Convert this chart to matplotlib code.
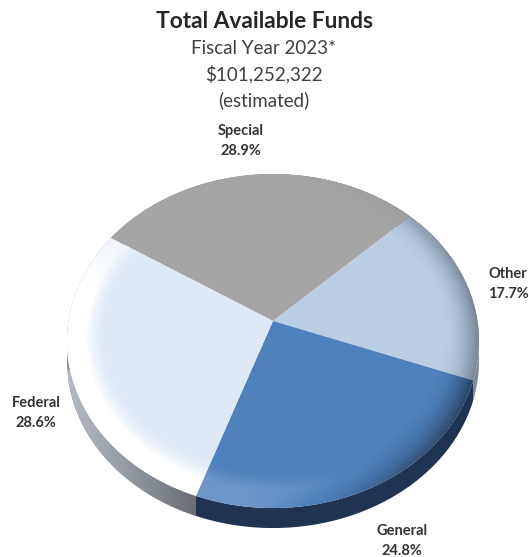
import numpy as np
from matplotlib import pyplot as plt
from matplotlib.patches import Polygon
from matplotlib.transforms import Transform
from matplotlib.colors import LinearSegmentedColormap

plt.rcParams['font.family'] = ['Lato', 'DejaVu Sans']

categories = ['Special', 'Other', 'General', 'Federal']
shares = [28.9, 17.7, 24.8, 28.6]
top_colors = ['#a5a5a5', '#b9cde5', '#4f81bd', '#dfe9f6']
side_colors = ['#6f6f6f', '#7f8a97', '#1f3352', '#8a9098']
highlight_gain = [0.0, 0.0, 0.18, 1.0]
shadow_gain = [0.12, 0.6, 0.85, 0.3]

title = 'Total Available Funds'
subtitle = ['Fiscal Year 2023*', '$101,252,322', '(estimated)']

# pie position on the page, in pixels
CX, CY, RX, RY, TILT = 273.0, 321.0, 204.5, 164.6, 0.12
DEPTH = 20
W, H = 529, 557


class Perspective(Transform):
    input_dims = 2
    output_dims = 2
    is_separable = False
    has_inverse = False

    def transform_non_affine(self, values):
        values = np.asarray(values, dtype=float)
        w = 1 + TILT * values[:, 1]
        return np.column_stack((CX + RX * values[:, 0] / w, CY - RY * values[:, 1] / w))


def bevel_overlay(hi, lo):
    xx, yy = np.meshgrid(np.arange(W) + 0.5, np.arange(H) + 0.5)
    ny = (CY - yy) / RY
    v = ny / (1 - TILT * ny)
    u = (xx - CX) / RX * (1 + TILT * v)
    r = np.hypot(u, v)
    th = np.arctan2(v, u)
    t = np.clip((r - 0.82) / 0.18, 0, 1)
    light = np.clip(np.cos(th - np.radians(215)) * 1.5, 0, 1) * np.clip(t * 2.0, 0, 1) ** 1.5 * hi
    dark = np.clip(np.cos(th + np.radians(5)), 0, 1) * t ** 2 * 0.6 * lo
    net = light - dark
    rgba = np.zeros((H, W, 4))
    rgba[..., :3] = (net > 0)[..., None] * 1.0
    rgba[..., 3] = np.abs(net)
    return rgba


fig = plt.figure(figsize=(W / 100, H / 100), dpi=100)
ax = fig.add_axes([0, 0, 1, 1])

persp = Perspective()
to_page = persp + ax.transData

top, _ = ax.pie(shares, colors=top_colors, startangle=147.5, counterclock=False)

# side of the disc: each slice's rim swept straight down
sides = []
for w, c in zip(top, side_colors):
    a = np.radians(np.linspace(w.theta1, w.theta2, 80))
    rim = persp.transform(np.column_stack((np.cos(a), np.sin(a))))
    low = rim[::-1] + [0, DEPTH]
    p = Polygon(np.vstack((rim, low)), closed=True, facecolor=c, edgecolor='none', zorder=1)
    ax.add_patch(p)
    sides.append(p)

# federal side fades from light grey to dark grey, left to right
fade = LinearSegmentedColormap.from_list('fade', ['#b4bbc5', '#8f959d', '#62676d'])
im = ax.imshow(np.linspace(0, 1, 140)[None, :], cmap=fade, extent=(68, 205, 540, 370),
               aspect='auto', zorder=1.5)
im.set_clip_path(sides[3])

for i, w in enumerate(top):
    w.set_transform(to_page)
    w.set_zorder(2)
    im = ax.imshow(bevel_overlay(highlight_gain[i], shadow_gain[i]), extent=(0, W, H, 0),
                   aspect='auto', zorder=3, interpolation='nearest')
    im.set_clip_path(w)

ax.set_xlim(0, W)
ax.set_ylim(H, 0)
ax.set_aspect('auto')
ax.axis('off')

ax.text(264, 21, title, ha='center', va='center', fontsize=16.4, fontweight='bold', color='#262626')
for line, y in zip(subtitle, [48, 74, 100]):
    ax.text(264, y, line, ha='center', va='center', fontsize=13.5, color='#404040')

label_xy = [(241, 141), (508, 284), (402, 541), (36, 413)]
for name, val, (x, y) in zip(categories, shares, label_xy):
    ax.text(x, y, '{}\n{}%'.format(name, val), ha='center', va='center', fontsize=10.5,
            fontweight='bold', color='#333333', linespacing=1.5)

fig.savefig('out.png', dpi=100)
